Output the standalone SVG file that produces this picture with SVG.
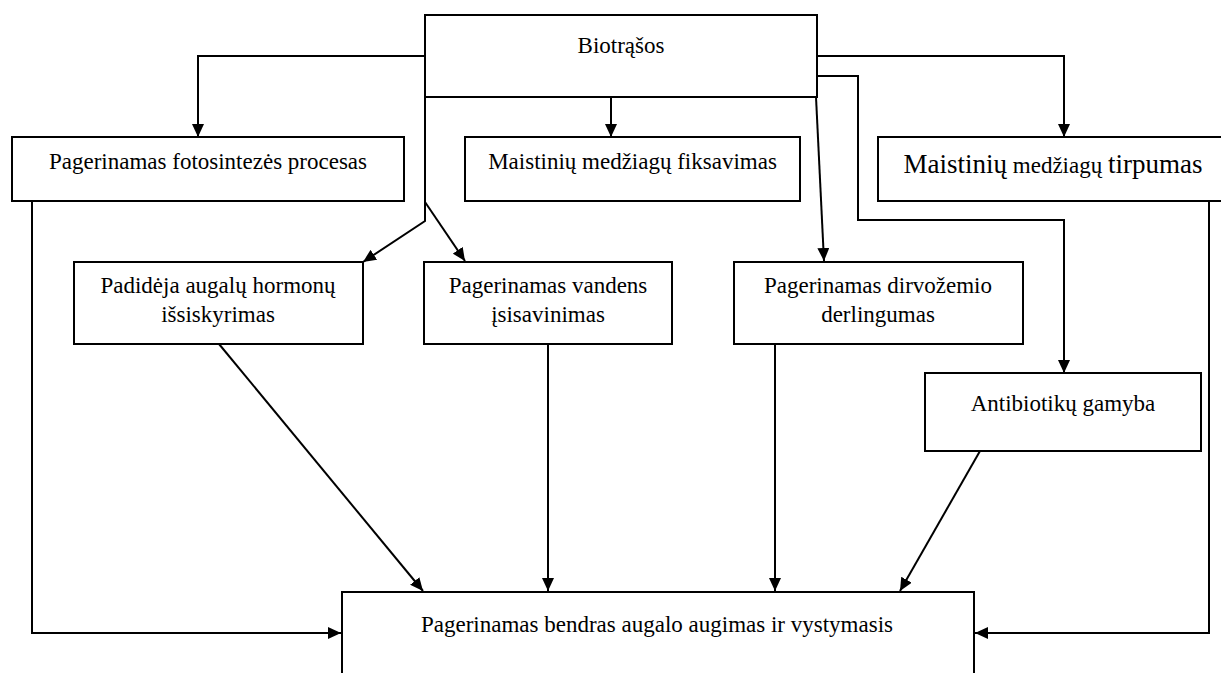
<svg xmlns="http://www.w3.org/2000/svg" width="1221" height="673" viewBox="0 0 1221 673">
<style>
  .box { fill: #fff; stroke: #000; stroke-width: 2; }
  .lbl { font-family: "Liberation Serif", "Times New Roman", serif; font-size: 23px; fill: #000; text-anchor: middle; }
  .big { font-size: 27px; }
  .con { fill: none; stroke: #000; stroke-width: 2; }
</style>
<defs>
  <marker id="arr" markerUnits="userSpaceOnUse" markerWidth="14" markerHeight="12" refX="13" refY="6" orient="auto">
    <path d="M0,0 L13,6 L0,12 z" fill="#000"/>
  </marker>
</defs>
<rect width="1221" height="673" fill="#fff"/>
<g id="connectors">
  <path class="con" d="M425,56 H198 V137" marker-end="url(#arr)"/>
  <path class="con" d="M611,97 V137" marker-end="url(#arr)"/>
  <path class="con" d="M425,97 V221 L363,262" marker-end="url(#arr)"/>
  <path class="con" d="M425,202 L465,261" marker-end="url(#arr)"/>
  <path class="con" d="M817,56 H1064 V137" marker-end="url(#arr)"/>
  <path class="con" d="M817,76 H858 V220 H1064 V373" marker-end="url(#arr)"/>
  <path class="con" d="M816,97 L824,261" marker-end="url(#arr)"/>
  <path class="con" d="M32,201 V633 H341" marker-end="url(#arr)"/>
  <path class="con" d="M219,344 L423,591" marker-end="url(#arr)"/>
  <path class="con" d="M548,344 V591" marker-end="url(#arr)"/>
  <path class="con" d="M775,344 V591" marker-end="url(#arr)"/>
  <path class="con" d="M980,451 L900,591" marker-end="url(#arr)"/>
  <path class="con" d="M1209,201 V633 H975" marker-end="url(#arr)"/>
</g>
<g id="biotrasos">
  <rect class="box" x="425" y="15" width="392" height="82"/>
  <text class="lbl" x="621" y="53">Biotrąšos</text>
</g>
<g id="fotosinteze">
  <rect class="box" x="12" y="137" width="392" height="64"/>
  <text class="lbl" x="208" y="169">Pagerinamas fotosintezės procesas</text>
</g>
<g id="fiksavimas">
  <rect class="box" x="465" y="137" width="335" height="64"/>
  <text class="lbl" x="632.5" y="169">Maistinių medžiagų fiksavimas</text>
</g>
<g id="tirpumas">
  <rect class="box" x="878" y="137" width="350" height="64"/>
  <text class="lbl" x="1053" y="173"><tspan class="big">Maistinių</tspan> medžiagų <tspan class="big">tirpumas</tspan></text>
</g>
<g id="hormonai">
  <rect class="box" x="74" y="262" width="289" height="82"/>
  <text class="lbl" x="218" y="293">Padidėja augalų hormonų</text>
  <text class="lbl" x="218" y="322">išsiskyrimas</text>
</g>
<g id="vanduo">
  <rect class="box" x="424" y="262" width="248" height="82"/>
  <text class="lbl" x="548" y="293">Pagerinamas vandens</text>
  <text class="lbl" x="548" y="322">įsisavinimas</text>
</g>
<g id="dirvozemis">
  <rect class="box" x="734" y="262" width="289" height="82"/>
  <text class="lbl" x="878" y="293">Pagerinamas dirvožemio</text>
  <text class="lbl" x="878" y="322">derlingumas</text>
</g>
<g id="antibiotikai">
  <rect class="box" x="925" y="373" width="276" height="78"/>
  <text class="lbl" x="1063" y="411">Antibiotikų gamyba</text>
</g>
<g id="augimas">
  <rect class="box" x="342" y="592" width="632" height="95"/>
  <text class="lbl" x="657" y="632">Pagerinamas bendras augalo augimas ir vystymasis</text>
</g>
</svg>
